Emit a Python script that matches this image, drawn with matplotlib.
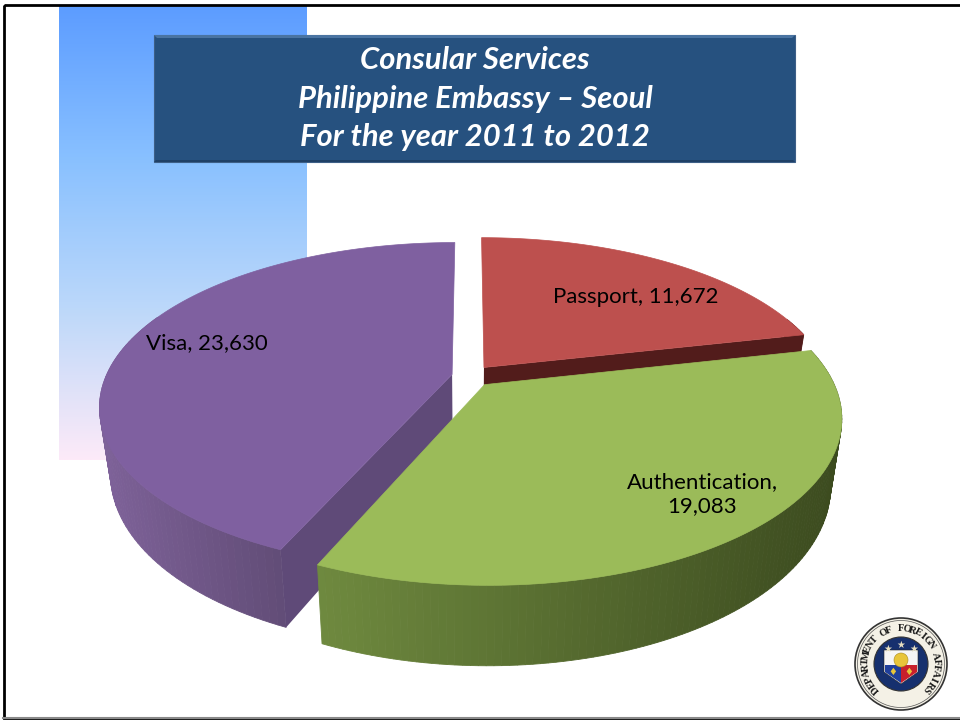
import numpy as np
import matplotlib
matplotlib.use("Agg")
import matplotlib.pyplot as plt
from matplotlib.patches import Polygon, Rectangle, Circle
from matplotlib.colors import LinearSegmentedColormap, to_rgb

# DATA
categories = ["Passport", "Authentication", "Visa"]
services = [11672, 19083, 23630]
title_lines = ["Consular Services", "Philippine Embassy \u2013 Seoul", "For the year 2011 to 2012"]
seal_text = "DEPARTMENT OF FOREIGN AFFAIRS"

# STYLE
top_colors = {"Passport": "#bd504e", "Authentication": "#9bbb59", "Visa": "#7f60a0"}
cut_colors = {"Passport": "#521c1b", "Authentication": "#5f7535", "Visa": "#5f4a78"}
wall_light = {"Passport": "#7a2f2d", "Authentication": "#6f8a3f", "Visa": "#7e6299"}
wall_dark = {"Passport": "#521c1b", "Authentication": "#3c4b1f", "Visa": "#5c4870"}
explode = {"Passport": 0.07, "Authentication": 0.07, "Visa": 0.05}

CX, CY = 469, 376
RX, RY = 346, 158
PERSP = 0.194
DEPTH = 64
SHRINK = 0.97  # the bottom of the pie is a bit narrower than the top

fig = plt.figure(figsize=(9.6, 7.21), dpi=100)
ax = fig.add_axes([0, 0, 1, 1])
ax.set_xlim(0, 960)
ax.set_ylim(721, 0)
ax.axis("off")


def project(u, v):
    # u is to the right, v goes away from the viewer, pie radius is 1
    s = 1 / (1 + PERSP * v)
    return CX + RX * u * s, CY - RY * v * s, s


def rim(start, end, off_u, off_v, n=120):
    angles = np.radians(np.linspace(start, end, n))
    return project(np.sin(angles) + off_u, np.cos(angles) + off_v)


def lower(px, py, ps):
    return CX + (px - CX) * SHRINK, py + DEPTH * ps


def draw_slice(name, start, end):
    mid = np.radians((start + end) / 2)
    off_u = explode[name] * np.sin(mid)
    off_v = explode[name] * np.cos(mid)
    ax_x, ax_y, ax_s = project(off_u, off_v)
    x, y, s = rim(start, end, off_u, off_v)

    # outer wall, split in thin strips for the shading
    light = np.array(to_rgb(wall_light[name]))
    dark = np.array(to_rgb(wall_dark[name]))
    for i in range(len(x) - 1):
        if s[i] < 0.93 and name != "Authentication":
            continue
        t = (x[i] - x.min()) / (x.max() - x.min())
        col = light + (dark - light) * t
        if name == "Visa":
            col = light + (dark - light) * min(1, t * 1.6 if t < 0.6 else 1)
        pts = [(x[i], y[i]), (x[i + 1], y[i + 1]),
               lower(x[i + 1], y[i + 1], s[i + 1]), lower(x[i], y[i], s[i])]
        ax.add_patch(Polygon(pts, closed=True, facecolor=col, edgecolor=col, lw=0.6, zorder=order[name]))

    # flat cut faces from the apex down
    for k in (0, -1):
        pts = [(ax_x, ax_y), (x[k], y[k]), lower(x[k], y[k], s[k]), lower(ax_x, ax_y, ax_s)]
        if name == "Passport" and k == 0:
            continue
        if name == "Visa" and k == -1:
            continue
        if name == "Authentication":
            continue
        ax.add_patch(Polygon(pts, closed=True, facecolor=cut_colors[name], edgecolor="none", zorder=order[name] + 0.1))

    # top face
    top = np.column_stack([np.r_[ax_x, x], np.r_[ax_y, y]])
    ax.add_patch(Polygon(top, closed=True, facecolor=top_colors[name], edgecolor=top_colors[name], lw=0.5, zorder=order[name] + 0.2))


# slide background
grad = np.linspace(0, 1, 256).reshape(-1, 1)
bg_cmap = LinearSegmentedColormap.from_list("bg", ["#5c9cff", "#88c0ff", "#bcd8fa", "#fdeaf8"])
ax.imshow(grad, extent=(59, 307, 460, 5), cmap=bg_cmap, aspect="auto", zorder=1)
ax.set_xlim(0, 960)
ax.set_ylim(721, 0)

# title box with a small bevel
ax.add_patch(Rectangle((154, 35), 641, 127, facecolor="#26517f", edgecolor="#3d5f87", lw=0.8, zorder=2))
ax.add_patch(Polygon([(154, 35), (795, 35), (792, 38), (157, 38)], closed=True, facecolor="#4a74a2", edgecolor="none", zorder=2.1))
ax.add_patch(Polygon([(154, 162), (795, 162), (793, 160), (156, 160)], closed=True, facecolor="#1f4066", edgecolor="none", zorder=2.1))
for line, ypos in zip(title_lines, [60, 99, 137]):
    ax.text(475, ypos, line, color="white", fontsize=22.3, fontweight="bold", fontstyle="italic",
            family="Lato", ha="center", va="center", zorder=3)

# 3D pie, starts at 12 o'clock and runs clockwise
order = {"Passport": 4, "Visa": 5, "Authentication": 6}
total = sum(services)
angle = 0
for name, val in zip(categories, services):
    sweep = 360 * val / total
    draw_slice(name, angle, angle + sweep)
    angle += sweep

label_style = dict(fontsize=16, family="Lato", color="black", ha="center", va="center", zorder=8)
ax.text(636, 297, f"{categories[0]}, {services[0]:,}", **label_style)
ax.text(702, 494, f"{categories[1]},\n{services[1]:,}", linespacing=1.2, **label_style)
ax.text(207, 343, f"{categories[2]}, {services[2]:,}", **label_style)

# seal
sx, sy = 901, 664
ax.add_patch(Circle((sx, sy), 46, facecolor="#f4f1e6", edgecolor="#333333", lw=1.2, zorder=9))
ax.add_patch(Circle((sx, sy), 43.5, facecolor="none", edgecolor="#555555", lw=0.5, zorder=9))
ax.add_patch(Circle((sx, sy), 27, facecolor="#16306e", edgecolor="#333333", lw=0.8, zorder=9))
shield_w = Polygon([(sx - 17, sy - 14), (sx + 17, sy - 14), (sx + 17, sy + 8), (sx, sy + 20), (sx - 17, sy + 8)],
                   closed=True, facecolor="#f5f5f5", edgecolor="#222222", lw=0.4, zorder=10)
ax.add_patch(shield_w)
ax.add_patch(Polygon([(sx - 16, sy + 1), (sx, sy + 1), (sx, sy + 19), (sx - 16, sy + 8)], closed=True,
                     facecolor="#1f3f9c", edgecolor="none", zorder=10.1))
ax.add_patch(Polygon([(sx, sy + 1), (sx + 16, sy + 1), (sx + 16, sy + 8), (sx, sy + 19)], closed=True,
                     facecolor="#c8202c", edgecolor="none", zorder=10.1))
ax.add_patch(Circle((sx, sy - 4), 7, facecolor="#e8c53a", edgecolor="#a88a20", lw=0.4, zorder=10.2))
for dx, dy in [(-13, -15), (0, -19), (13, -15)]:
    ax.text(sx + dx, sy + dy, "\u2605", fontsize=7, color="#e8e0c0", ha="center", va="center", zorder=10.3)
ax.text(sx - 8, sy + 8, "\u2666", fontsize=7, color="#e8c53a", ha="center", va="center", zorder=10.3)
ax.text(sx + 8, sy + 8, "\u2666", fontsize=7, color="#e8c53a", ha="center", va="center", zorder=10.3)

# seal lettering around the ring
step = 268 / (len(seal_text) - 1)
for i, ch in enumerate(seal_text):
    theta = -134 + i * step
    tx = sx + 35.5 * np.sin(np.radians(theta))
    ty = sy - 35.5 * np.cos(np.radians(theta))
    ax.text(tx, ty, ch, fontsize=7.4, family="Liberation Serif", fontweight="bold", color="#1a1a1a",
            rotation=-theta, rotation_mode="anchor", ha="center", va="center", zorder=11)

# slide frame
ax.add_patch(Rectangle((3.5, 4.5), 960, 713, facecolor="none", edgecolor="black", lw=2, zorder=12))
ax.plot([3, 960], [718, 718], color="#8a8a8a", lw=1.5, zorder=12)

fig.savefig("out.png", dpi=100)
